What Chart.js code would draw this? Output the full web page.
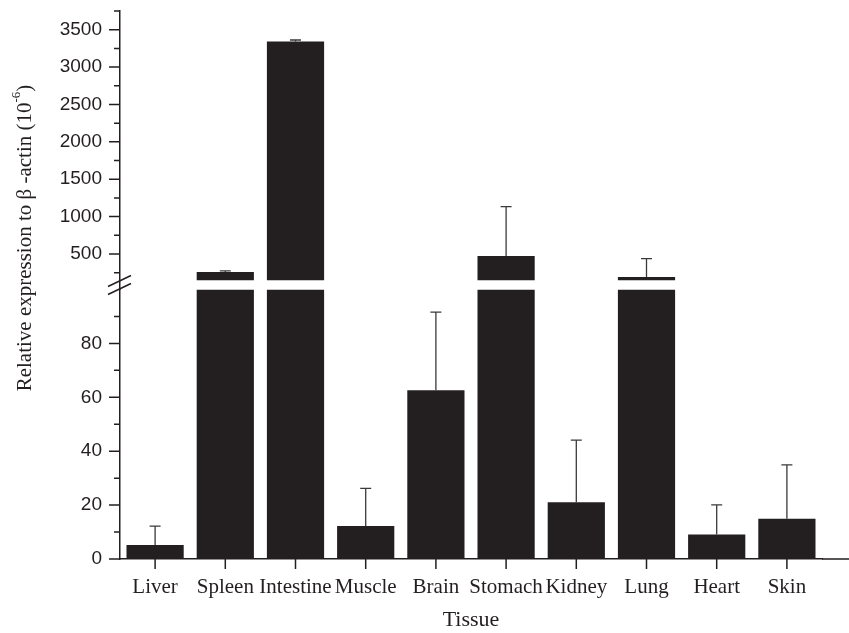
<!DOCTYPE html>
<html>
<head>
<meta charset="utf-8">
<script src="https://cdn.jsdelivr.net/npm/chart.js@4/dist/chart.umd.min.js"></script>
<style>
  html, body { margin: 0; padding: 0; background: #fff; }
</style>
</head>
<body>
<canvas id="myChart" width="849" height="633"></canvas>
<script>
const tissues = ["Liver", "Spleen", "Intestine", "Muscle", "Brain", "Stomach", "Kidney", "Lung", "Heart", "Skin"];
const expression = [5.2, 259, 3343, 12.2, 62.6, 473, 21.1, 192, 9.1, 14.9];
const errorUp = [7, 15, 19, 14, 29, 660, 23, 245, 11, 20];

const lowerTicks = [0, 20, 40, 60, 80];
const lowerMinor = [10, 30, 50, 70, 90];
const upperTicks = [500, 1000, 1500, 2000, 2500, 3000, 3500];
const upperMinor = [250, 750, 1250, 1750, 2250, 2750, 3250, 3750];

const breakAt = 100; // top of the lower segment
const upperBase = 150; // where the upper piece of a broken bar starts

const ink = "#231f20";
const serif = "'Liberation Serif', 'Times New Roman', serif";
const sans = "'Liberation Sans', Arial, sans-serif";

const ctx = document.getElementById("myChart");

// tick marks, axis break, error bars and y title
const extras = {
  id: "extras",
  afterDatasetsDraw(chart) {
    const c = chart.ctx;
    const xs = chart.scales.x;
    c.save();
    c.strokeStyle = "#3a3a3a";
    c.lineWidth = 1.3;
    expression.forEach((v, i) => {
      const sc = v > breakAt ? chart.scales.yHigh : chart.scales.yLow;
      const x = xs.getPixelForValue(i);
      const y0 = sc.getPixelForValue(v);
      const y1 = sc.getPixelForValue(v + errorUp[i]);
      c.beginPath();
      c.moveTo(x, y0);
      c.lineTo(x, y1);
      c.moveTo(x - 5.5, y1);
      c.lineTo(x + 5.5, y1);
      c.stroke();
    });
    c.restore();
  },
  afterDraw(chart) {
    const c = chart.ctx;
    const area = chart.chartArea;
    const xs = chart.scales.x;
    const hi = chart.scales.yHigh;
    const lo = chart.scales.yLow;
    const left = area.left;
    c.save();
    c.strokeStyle = ink;
    c.lineWidth = 1.5;
    c.beginPath();
    // y ticks
    const tick = (sc, v, len) => {
      const y = sc.getPixelForValue(v);
      c.moveTo(left - len, y);
      c.lineTo(left, y);
    };
    upperTicks.forEach((v) => tick(hi, v, 11));
    upperMinor.forEach((v) => tick(hi, v, 6));
    lowerTicks.forEach((v) => tick(lo, v, 11));
    lowerMinor.forEach((v) => tick(lo, v, 6));
    // x ticks
    tissues.forEach((t, i) => {
      const x = xs.getPixelForValue(i);
      c.moveTo(x, area.bottom);
      c.lineTo(x, area.bottom + 10);
    });
    // x baseline runs on to the edge
    c.moveTo(area.right, area.bottom);
    c.lineTo(chart.width, area.bottom);
    c.stroke();

    // axis break marks
    const yb = lo.top;
    c.beginPath();
    c.moveTo(left - 12, yb - 3);
    c.lineTo(left + 11, yb - 14);
    c.moveTo(left - 12, yb + 5);
    c.lineTo(left + 11, yb - 6);
    c.stroke();

    // y title with superscript
    c.fillStyle = ink;
    c.translate(25, 238);
    c.rotate(-Math.PI / 2);
    c.textBaseline = "middle";
    const main = "Relative expression to \u03b2 -actin (10";
    const sup = "-6";
    const end = ")";
    c.font = "21px " + serif;
    const wMain = c.measureText(main).width;
    const wEnd = c.measureText(end).width;
    c.font = "13px " + serif;
    const wSup = c.measureText(sup).width;
    let x = -(wMain + wSup + wEnd) / 2;
    c.font = "21px " + serif;
    c.textAlign = "left";
    c.fillText(main, x, 0);
    x += wMain;
    c.font = "13px " + serif;
    c.fillText(sup, x, -8);
    x += wSup;
    c.font = "21px " + serif;
    c.fillText(end, x, 0);
    c.restore();
  },
};

const barStyle = {
  backgroundColor: ink,
  borderWidth: 0,
  grouped: false,
  categoryPercentage: 1,
  barPercentage: 0.815,
};

const plain = (v) => String(v);

const fitY = (s) => {
  s.width = 120;
  s.paddingTop = 0;
  s.paddingBottom = 0;
};

const chart = new Chart(ctx, {
  type: "bar",
  data: {
    labels: tissues,
    datasets: [
      {
        label: "lower",
        data: expression.map((v) => Math.min(v, breakAt)),
        yAxisID: "yLow",
        ...barStyle,
      },
      {
        label: "upper",
        data: expression.map((v) => (v > breakAt ? [upperBase, v] : null)),
        yAxisID: "yHigh",
        ...barStyle,
      },
    ],
  },
  options: {
    responsive: false,
    animation: false,
    devicePixelRatio: 1,
    layout: { padding: { top: 11, right: 27, bottom: 0, left: 0 } },
    plugins: {
      legend: { display: false },
      tooltip: { enabled: false },
    },
    scales: {
      x: {
        type: "category",
        grid: { display: false, drawTicks: false },
        border: { color: ink, width: 1.5 },
        ticks: {
          color: ink,
          font: { family: serif, size: 21 },
          padding: 16,
          maxRotation: 0,
          autoSkip: false,
        },
        title: {
          display: true,
          text: "Tissue",
          color: ink,
          font: { family: serif, size: 22 },
          padding: 0,
        },
        afterFit: (s) => { s.height = 74; },
      },
      yLow: {
        type: "linear",
        position: "left",
        stack: "y",
        stackWeight: 269,
        min: 0,
        max: breakAt,
        grid: { display: false, drawTicks: false },
        border: { color: ink, width: 1.5 },
        ticks: { color: ink, font: { family: sans, size: 19 }, padding: 18, callback: plain },
        afterBuildTicks: (s) => { s.ticks = lowerTicks.map((v) => ({ value: v })); },
        afterFit: fitY,
      },
      yHigh: {
        type: "linear",
        position: "left",
        stack: "y",
        stackWeight: 278,
        min: 25,
        max: 3750,
        grid: { display: false, drawTicks: false },
        border: { color: ink, width: 1.5 },
        ticks: { color: ink, font: { family: sans, size: 19 }, padding: 18, callback: plain },
        afterBuildTicks: (s) => { s.ticks = upperTicks.map((v) => ({ value: v })); },
        afterFit: fitY,
      },
    },
  },
  plugins: [extras],
});
</script>
</body>
</html>
